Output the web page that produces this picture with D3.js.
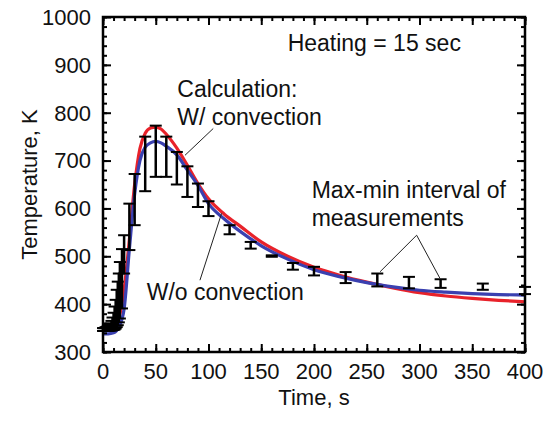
<!DOCTYPE html>
<html>
<head>
<meta charset="utf-8">
<script src="https://cdn.jsdelivr.net/npm/d3@7"></script>
<style>
  html, body { margin: 0; padding: 0; background: #fff; }
  svg { display: block; }
  text { font-family: "Liberation Sans", Arial, sans-serif; fill: #111; }
</style>
</head>
<body>
<svg id="chart" width="556" height="421"></svg>
<script>
// Calculated surface temperature, with and without convection (K)
const calcTime = [0, 5, 10, 15, 20, 25, 30, 35, 40, 45, 50, 55, 60, 70, 80, 90, 100, 115, 130, 150, 175, 200, 225, 250, 275, 300, 325, 350, 375, 400];
const withConvection = [347, 347, 350, 370, 430, 535, 650, 725, 757, 768, 770, 766, 755, 726, 690, 652, 620, 588, 563, 530, 500, 477, 460, 446, 434, 424, 417, 412, 408, 405];
const withoutConvection = [338, 338, 340, 352, 390, 515, 630, 700, 728, 737, 740, 737, 730, 712, 680, 648, 610, 578, 552, 522, 494, 472, 457, 445, 436, 429, 425, 422, 420, 419];

// Measured temperatures: max-min interval over all measurements
const measTime = [0, 1, 2, 3, 4, 5, 6, 7, 8, 9, 10, 11, 12, 13, 14, 15, 16, 18, 20, 25, 30, 40, 50, 60, 70, 80, 90, 100, 120, 140, 160, 180, 200, 230, 260, 290, 320, 360, 400];
const measMin = [344, 344, 344, 344, 344, 344, 345, 345, 345, 346, 346, 347, 349, 352, 356, 362, 370, 391, 464, 513, 565, 636, 666, 666, 650, 624, 603, 584, 546, 516, 499, 472, 460, 444, 437, 433, 434, 430, 421];
const measMax = [350, 350, 351, 352, 353, 355, 357, 360, 365, 372, 382, 395, 409, 430, 447, 464, 488, 515, 544, 610, 672, 750, 773, 750, 718, 688, 652, 615, 565, 530, 502, 486, 478, 467, 464, 457, 452, 443, 436];

const xMajorTicks = [0, 50, 100, 150, 200, 250, 300, 350, 400];
const yMajorTicks = [300, 400, 500, 600, 700, 800, 900, 1000];

const svg = d3.select("#chart");
const plot = { left: 103, right: 525, top: 17, bottom: 352 };

const x = d3.scaleLinear().domain([0, 400]).range([plot.left, plot.right]);
const y = d3.scaleLinear().domain([300, 1000]).range([plot.bottom, plot.top]);

// Calculated curves
const line = (vals) => d3.line()
  .x((d, i) => x(calcTime[i]))
  .y(d => y(d))
  .curve(d3.curveMonotoneX)(vals);

svg.append("path").attr("d", line(withConvection))
  .attr("fill", "none").attr("stroke", "#e8222a").attr("stroke-width", 3.2);
svg.append("path").attr("d", line(withoutConvection))
  .attr("fill", "none").attr("stroke", "#3a40b0").attr("stroke-width", 3.2);

// Error bars
const meas = measTime.map((t, i) => ({ t, lo: measMin[i], hi: measMax[i] }));
const capHalf = 6;
const eb = svg.append("g").attr("stroke", "#000");
eb.selectAll("line.v").data(meas).join("line")
  .attr("x1", d => x(d.t)).attr("x2", d => x(d.t))
  .attr("y1", d => y(d.hi)).attr("y2", d => y(d.lo))
  .attr("stroke-width", 2.5);
eb.selectAll("line.top").data(meas).join("line")
  .attr("x1", d => x(d.t) - capHalf).attr("x2", d => x(d.t) + capHalf)
  .attr("y1", d => y(d.hi)).attr("y2", d => y(d.hi))
  .attr("stroke-width", 2);
eb.selectAll("line.bot").data(meas).join("line")
  .attr("x1", d => x(d.t) - capHalf).attr("x2", d => x(d.t) + capHalf)
  .attr("y1", d => y(d.lo)).attr("y2", d => y(d.lo))
  .attr("stroke-width", 2);

// Axes with inward ticks on all four sides
const xMinor = d3.range(0, 401, 10);
const yMinor = d3.range(300, 1001, 20);
function addAxis(axisGen, scale, values, size, transform) {
  const g = svg.append("g").attr("transform", transform)
    .call(axisGen(scale).tickValues(values).tickSize(size).tickFormat(""));
  g.select(".domain").remove();
  g.selectAll(".tick line").attr("stroke", "#000").attr("stroke-width", 2);
  return g;
}
addAxis(d3.axisBottom, x, xMinor, -4, `translate(0,${plot.bottom})`);
addAxis(d3.axisBottom, x, xMajorTicks, -8, `translate(0,${plot.bottom})`);
addAxis(d3.axisTop, x, xMinor, -4, `translate(0,${plot.top})`);
addAxis(d3.axisTop, x, xMajorTicks, -8, `translate(0,${plot.top})`);
addAxis(d3.axisLeft, y, yMinor, -4, `translate(${plot.left},0)`);
addAxis(d3.axisLeft, y, yMajorTicks, -8, `translate(${plot.left},0)`);
addAxis(d3.axisRight, y, yMinor, -4, `translate(${plot.right},0)`);
addAxis(d3.axisRight, y, yMajorTicks, -8, `translate(${plot.right},0)`);

// Tick labels
svg.append("g").selectAll("text").data(xMajorTicks).join("text")
  .attr("x", d => x(d)).attr("y", plot.bottom + 27)
  .attr("text-anchor", "middle").attr("font-size", 22).text(d => d);
svg.append("g").selectAll("text").data(yMajorTicks).join("text")
  .attr("x", plot.left - 12).attr("y", d => y(d)).attr("dy", "0.36em")
  .attr("text-anchor", "end").attr("font-size", 22).text(d => d);

// Frame
svg.append("rect")
  .attr("x", plot.left).attr("y", plot.top)
  .attr("width", plot.right - plot.left).attr("height", plot.bottom - plot.top)
  .attr("fill", "none").attr("stroke", "#000").attr("stroke-width", 2.5);

// Axis titles
svg.append("text").attr("x", (plot.left + plot.right) / 2).attr("y", 405)
  .attr("text-anchor", "middle").attr("font-size", 22).text("Time, s");
svg.append("text")
  .attr("transform", `translate(37,${(plot.top + plot.bottom) / 2}) rotate(-90)`)
  .attr("text-anchor", "middle").attr("font-size", 22).text("Temperature, K");

// Annotations
const notes = [
  { t: 175, T: 930, text: "Heating = 15 sec" },
  { t: 70.4, T: 833, text: "Calculation:" },
  { t: 70.4, T: 774, text: "W/ convection" },
  { t: 41.4, T: 408.6, text: "W/o convection" },
  { t: 197.8, T: 621, text: "Max-min interval of" },
  { t: 197.8, T: 563, text: "measurements" }
];
svg.append("g").selectAll("text").data(notes).join("text")
  .attr("x", d => x(d.t)).attr("y", d => y(d.T))
  .attr("font-size", 23).text(d => d.text);

// Leader lines
const leaders = [
  [[104.5, 767], [77.7, 711]],
  [[91.9, 450], [112.4, 589.6]],
  [[297.3, 544], [262.6, 467.6]],
  [[297.3, 544], [319.4, 453.9]]
];
svg.append("g").selectAll("line").data(leaders).join("line")
  .attr("x1", d => x(d[0][0])).attr("y1", d => y(d[0][1]))
  .attr("x2", d => x(d[1][0])).attr("y2", d => y(d[1][1]))
  .attr("stroke", "#222").attr("stroke-width", 1);
</script>
</body>
</html>
